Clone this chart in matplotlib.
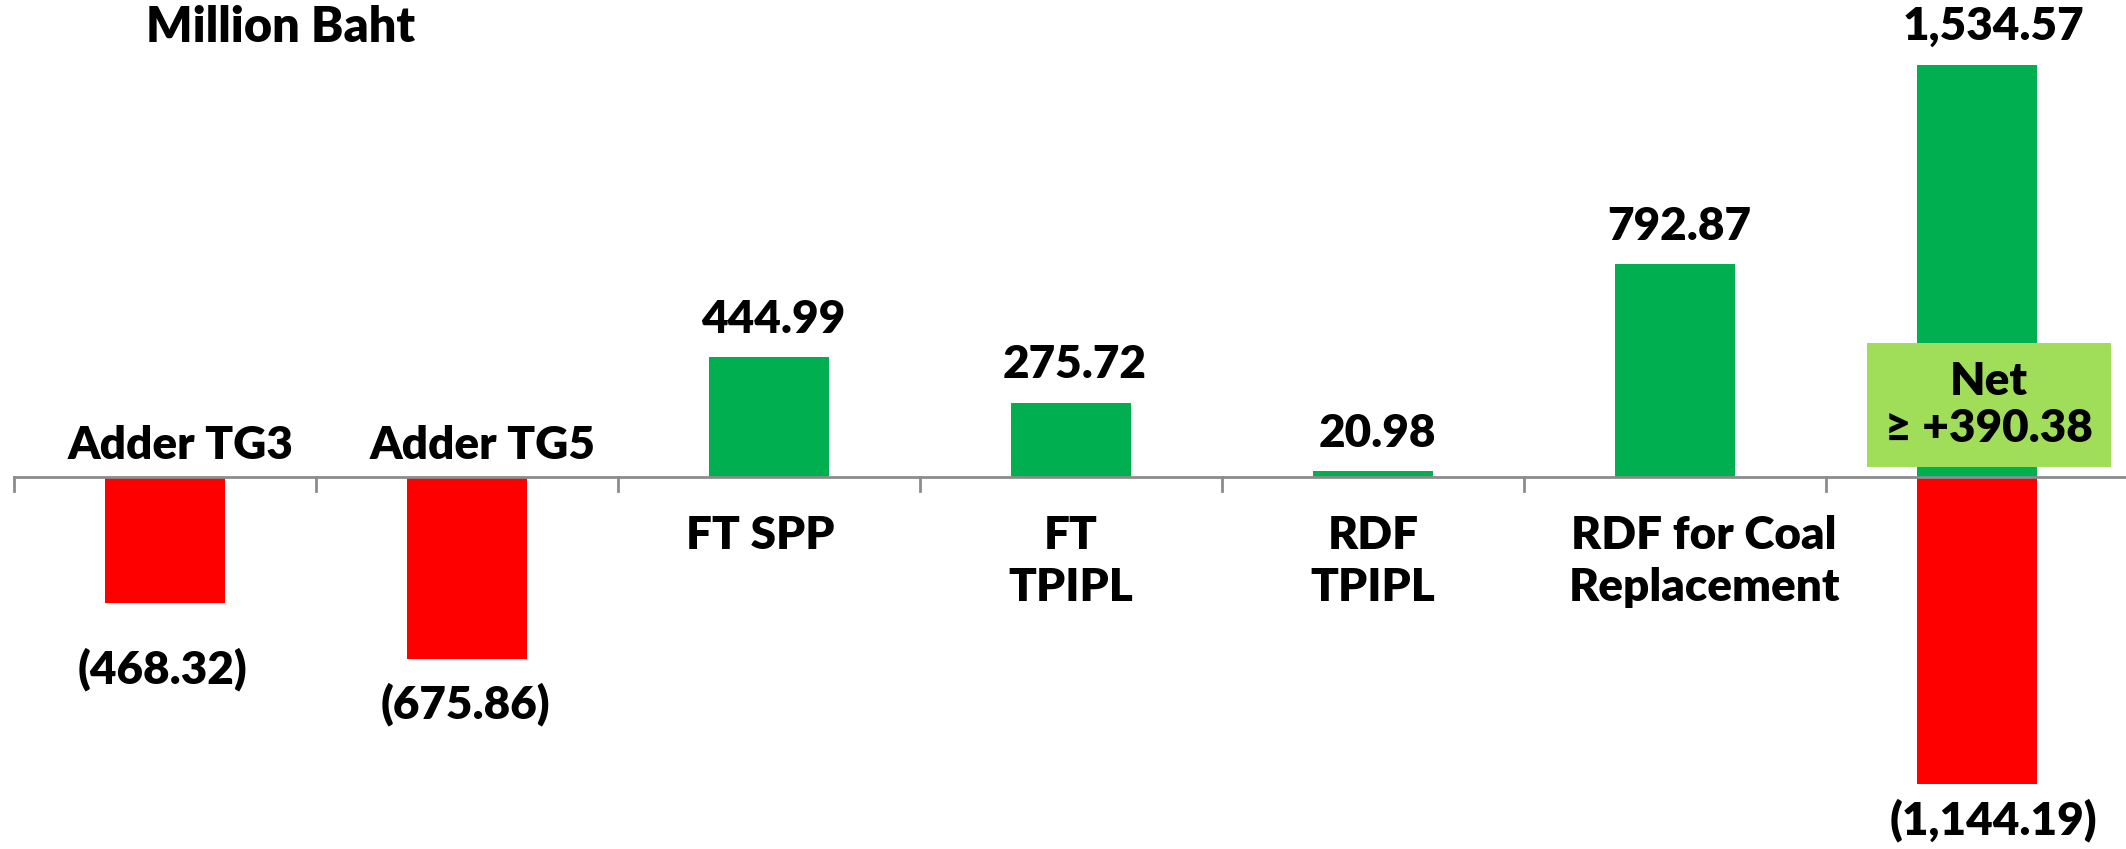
import matplotlib.pyplot as plt
import numpy as np

plt.rcParams['font.family'] = ['Lato', 'DejaVu Sans']
plt.rcParams['font.weight'] = 'heavy'

# data (million baht)
categories = ['Adder TG3', 'Adder TG5', 'FT SPP', 'FT\nTPIPL', 'RDF\nTPIPL',
              'RDF for Coal\nReplacement']
values = [-468.32, -675.86, 444.99, 275.72, 20.98, 792.87]
total_gain = 1534.57
total_loss = -1144.19
net_value = 390.38

GREEN = '#00B050'
RED = '#FF0000'
NET_BG = '#A0DE5A'
AXIS = '#8C8C8C'
FS = 33

def fmt(v):
    s = f'{abs(v):,.2f}'
    return f'({s})' if v < 0 else s

fig = plt.figure(figsize=(21.26, 8.49), dpi=100)
ax = fig.add_axes([0, 0, 1, 1])
ax.set_xlim(-0.546, 6.493)
ax.set_ylim(-1385, 1776)
ax.axis('off')

x = np.arange(len(categories))
w = 0.395
colors = [GREEN if v > 0 else RED for v in values]
ax.bar(x, values, width=w, color=colors, zorder=2)

# total column: gains and losses stacked around zero
xt = len(categories)
ax.bar(xt, total_gain, width=w, color=GREEN, zorder=2)
ax.bar(xt, total_loss, width=w, color=RED, zorder=2)

# axis line and ticks between categories
ax.plot([-0.5, 7], [0, 0], color=AXIS, lw=2, zorder=3)
for b in np.arange(-0.5, xt, 1.0):
    ax.plot([b, b], [0, -52], color=AXIS, lw=2, zorder=3)

# value labels
neg_gap = [66, 46]
cat_dx = [16, 16, -9, 0, 0, 29]
for i, v in enumerate(values):
    if v > 0:
        ax.annotate(fmt(v), (i, v), xytext=(4, 38), textcoords='offset pixels',
                    ha='center', va='center', fontsize=FS)
        ax.annotate(categories[i], (i, 0), xytext=(cat_dx[i], -38),
                    textcoords='offset pixels', ha='center', va='top',
                    fontsize=FS, linespacing=1.32)
    else:
        ax.annotate(fmt(v), (i, v), xytext=(-2, -neg_gap[i]), textcoords='offset pixels',
                    ha='center', va='center', fontsize=FS)
        ax.annotate(categories[i], (i, 0), xytext=(cat_dx[i], 32),
                    textcoords='offset pixels', ha='center', va='center',
                    fontsize=FS)

ax.annotate(fmt(total_gain), (xt, total_gain), xytext=(16, 38), textcoords='offset pixels',
            ha='center', va='center', fontsize=FS)
ax.annotate(fmt(total_loss), (xt, total_loss), xytext=(16, -36), textcoords='offset pixels',
            ha='center', va='center', fontsize=FS)

ax.annotate(f'Net\n\u2265 +{net_value:,.2f}', (xt, 0), xytext=(12, 72),
            textcoords='offset pixels', ha='center', va='center', fontsize=FS,
            linespacing=1.15, zorder=4,
            bbox=dict(boxstyle='square,pad=0.4', fc=NET_BG, ec='none'))

fig.text(281 / 2126, 1 - 27 / 849, 'Million Baht', ha='center', va='center',
         fontsize=35)

fig.savefig('out.png', dpi=100)
